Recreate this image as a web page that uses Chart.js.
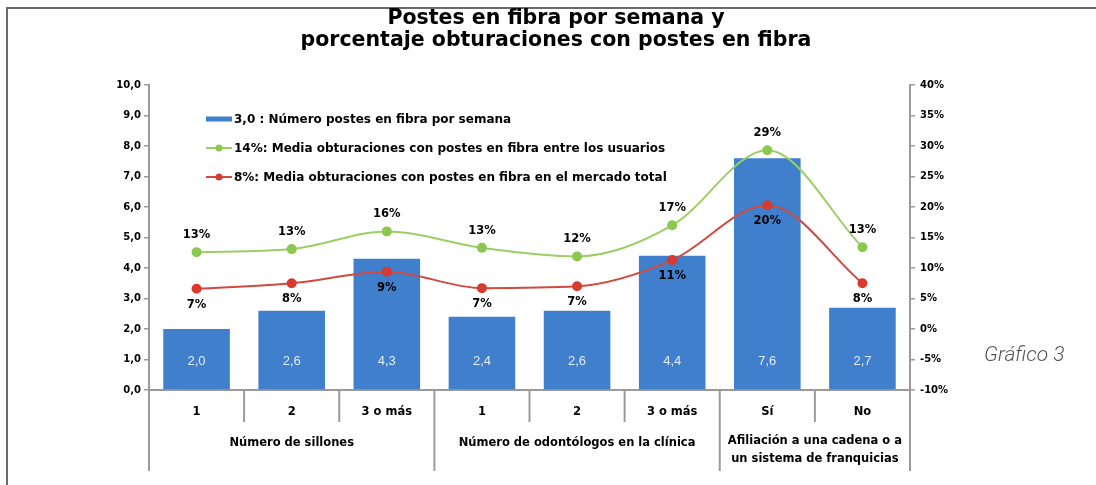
<!DOCTYPE html>
<html><head><meta charset="utf-8">
<script src="https://cdn.jsdelivr.net/npm/chart.js@4.4.1/dist/chart.umd.min.js"></script>
<style>html,body{margin:0;padding:0;background:#fff;} #wrap{position:relative;width:1096px;height:485px;} canvas{display:block}</style>
</head><body><div id="wrap"><canvas id="c" width="1096" height="485"></canvas></div>
<script>
const categories = ['1', '2', '3 o más', '1', '2', '3 o más', 'Sí', 'No'];
const groupLabels = [['Número de sillones'], ['Número de odontólogos en la clínica'], ['Afiliación a una cadena o a', 'un sistema de franquicias']];
const groupSizes = [3, 3, 2];
const postesPorSemana = [2.0, 2.6, 4.3, 2.4, 2.6, 4.4, 7.6, 2.7];
const obturUsuarios = [12.6, 13.1, 16.0, 13.3, 11.9, 17.0, 29.3, 13.4];
const obturMercado = [6.6, 7.5, 9.4, 6.7, 7.0, 11.3, 20.3, 7.5];
const legendLabels = ['3,0 : Número postes en fibra por semana', '14%: Media obturaciones con postes en fibra entre los usuarios', '8%: Media obturaciones con postes en fibra en el mercado total'];
const titleLines = ['Postes en fibra por semana y', 'porcentaje obturaciones con postes en fibra'];
const sideNote = 'Gráfico 3';

const FONT = '"DejaVu Sans", "Liberation Sans", Arial, sans-serif';
const BLUE = '#3f7fcb', GREEN = '#9bcf63', GREEN_PT = '#8cc84f', RED = '#cf4a40', RED_PT = '#d93a2f', AXIS = '#9a9a9a';

const custom = {
  id: 'custom',
  afterDatasetsDraw(chart) {
    const ctx = chart.ctx;
    const ca = chart.chartArea;
    ctx.save();
    // bar value labels
    const barMeta = chart.getDatasetMeta(0);
    ctx.font = '13px "Liberation Sans", Arial, sans-serif';
    ctx.fillStyle = '#e3ebf5';
    ctx.textAlign = 'center'; ctx.textBaseline = 'middle';
    barMeta.data.forEach((el, i) => {
      ctx.fillText(postesPorSemana[i].toFixed(1).replace('.', ','), el.x, ca.bottom - 29);
    });
    // line labels
    ctx.font = 'bold 11.5px ' + FONT;
    ctx.fillStyle = '#000';
    chart.getDatasetMeta(1).data.forEach((el, i) => {
      ctx.fillText(Math.round(obturUsuarios[i]) + '%', el.x, el.y - 17);
    });
    chart.getDatasetMeta(2).data.forEach((el, i) => {
      ctx.fillText(Math.round(obturMercado[i]) + '%', el.x, el.y + 16);
    });
    // legend
    const lx = 206, lw = 26, ys = [119, 148, 177];
    ctx.fillStyle = BLUE; ctx.fillRect(lx, ys[0] - 2.5, lw, 5);
    [[GREEN, GREEN_PT], [RED, RED_PT]].forEach((c, k) => {
      const y = ys[k + 1];
      ctx.strokeStyle = c[0]; ctx.lineWidth = 2;
      ctx.beginPath(); ctx.moveTo(lx, y); ctx.lineTo(lx + lw, y); ctx.stroke();
      ctx.fillStyle = c[1]; ctx.beginPath(); ctx.arc(lx + lw / 2, y, 3.5, 0, Math.PI * 2); ctx.fill();
    });
    ctx.fillStyle = '#000'; ctx.textAlign = 'left'; ctx.font = 'bold 12px ' + FONT;
    legendLabels.forEach((t, k) => ctx.fillText(t, lx + lw + 2, ys[k] + 1));
    ctx.restore();
  },
  afterDraw(chart) {
    const ctx = chart.ctx;
    const ca = chart.chartArea;
    const xs = chart.scales.x;
    ctx.save();
    // frame
    ctx.strokeStyle = '#6a6a6a'; ctx.lineWidth = 2;
    ctx.beginPath(); ctx.moveTo(7, 485); ctx.lineTo(7, 8); ctx.lineTo(1096, 8); ctx.stroke();
    // title
    ctx.fillStyle = '#000'; ctx.textAlign = 'center'; ctx.textBaseline = 'middle';
    ctx.font = 'bold 20.5px ' + FONT;
    ctx.fillText(titleLines[0], 556, 19);
    ctx.fillText(titleLines[1], 556, 41);
    // category separators and labels
    const n = categories.length;
    const step = (xs.getPixelForValue(1) - xs.getPixelForValue(0));
    const edge = i => xs.getPixelForValue(0) - step / 2 + i * step;
    const groupEdges = [0];
    groupSizes.forEach(s => groupEdges.push(groupEdges[groupEdges.length - 1] + s));
    ctx.strokeStyle = AXIS; ctx.lineWidth = 2;
    for (let i = 0; i <= n; i++) {
      const isGroup = groupEdges.includes(i);
      const x = edge(i);
      ctx.beginPath(); ctx.moveTo(x, ca.bottom); ctx.lineTo(x, ca.bottom + (isGroup ? 81 : 32)); ctx.stroke();
    }
    ctx.font = 'bold 11.5px ' + FONT;
    categories.forEach((c, i) => ctx.fillText(c, xs.getPixelForValue(i), ca.bottom + 22));
    groupLabels.forEach((lines, g) => {
      const cx = (edge(groupEdges[g]) + edge(groupEdges[g + 1])) / 2;
      if (lines.length === 1) ctx.fillText(lines[0], cx, ca.bottom + 53);
      else lines.forEach((l, k) => ctx.fillText(l, cx, ca.bottom + 51 + k * 18));
    });
    // side note
    ctx.textAlign = 'left'; ctx.fillStyle = '#555';
    ctx.font = 'italic 300 21px Roboto, "Liberation Sans", sans-serif';
    ctx.fillText(sideNote, 984, 356);
    ctx.restore();
  }
};

new Chart(document.getElementById('c'), {
  data: {
    labels: categories,
    datasets: [
      { type: 'bar', data: postesPorSemana, backgroundColor: BLUE, yAxisID: 'y', order: 2, barPercentage: 0.7, categoryPercentage: 1.0 },
      { type: 'line', data: obturUsuarios, borderColor: GREEN, borderWidth: 2, pointBackgroundColor: GREEN_PT, pointBorderColor: GREEN_PT, pointRadius: 4, cubicInterpolationMode: 'monotone', yAxisID: 'y1', order: 1 },
      { type: 'line', data: obturMercado, borderColor: RED, borderWidth: 2, pointBackgroundColor: RED_PT, pointBorderColor: RED_PT, pointRadius: 4, cubicInterpolationMode: 'monotone', yAxisID: 'y1', order: 0 }
    ]
  },
  options: {
    responsive: false, animation: false,
    layout: { padding: { top: 85, left: 0, right: 0, bottom: 0 } },
    plugins: { legend: { display: false }, tooltip: { enabled: false }, title: { display: false } },
    scales: {
      x: {
        offset: true, grid: { display: false }, ticks: { display: false },
        border: { display: true, color: AXIS, width: 2 },
        afterFit(s) { s.height = 95; }
      },
      y: {
        position: 'left', min: 0, max: 10,
        ticks: { stepSize: 1, color: '#000', padding: 3, font: { family: FONT, weight: 'bold', size: 10 }, callback: v => v.toFixed(1).replace('.', ',') },
        grid: { drawOnChartArea: false, drawTicks: true, tickLength: 5, color: AXIS, lineWidth: 1.5 },
        border: { display: true, color: AXIS, width: 2 },
        afterFit(s) { s.width = 149; }
      },
      y1: {
        position: 'right', min: -10, max: 40,
        ticks: { stepSize: 5, color: '#000', padding: 5, font: { family: FONT, weight: 'bold', size: 10 }, callback: v => v + '%' },
        grid: { drawOnChartArea: false, drawTicks: true, tickLength: 5, color: AXIS, lineWidth: 1.5 },
        border: { display: true, color: AXIS, width: 2 },
        afterFit(s) { s.width = 186; }
      }
    }
  },
  plugins: [custom]
});
</script>
</body></html>
